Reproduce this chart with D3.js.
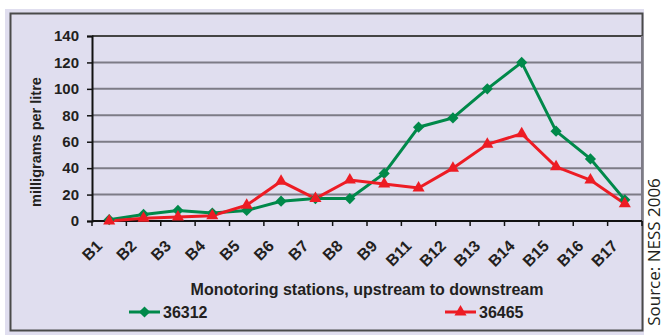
<!DOCTYPE html>
<html>
<head>
<meta charset="utf-8">
<script src="https://cdn.jsdelivr.net/npm/d3@7"></script>
<style>
  body { margin: 0; background: #fff; }
  svg { display: block; }
</style>
</head>
<body>
<svg id="chart" width="665" height="335"></svg>
<script>
// stations along the river (no B10 in the source)
var stations = ["B1","B2","B3","B4","B5","B6","B7","B8","B9","B11","B12","B13","B14","B15","B16","B17"]
var series36312 = [1, 5, 8, 6, 8, 15, 17, 17, 36, 71, 78, 100, 120, 68, 47, 16]
var series36465 = [0, 2, 3, 4, 12, 30, 17, 31, 28, 25, 40, 58, 66, 41, 31, 13]
var yTicks = [0, 20, 40, 60, 80, 100, 120, 140]

var green = "#00894a"
var red = "#ed1c24"
var font = "Liberation Sans, Arial, sans-serif"

var svg = d3.select("#chart")
var margin = {top: 36, right: 23, bottom: 114, left: 92}
var width = 665 - margin.left - margin.right
var height = 335 - margin.top - margin.bottom

// lavender panel with dark frame
svg.append("rect").attr("x", 5).attr("y", 9).attr("width", 639).attr("height", 326).attr("fill", "#e0deef")
svg.append("rect").attr("x", 10.5).attr("y", 13.5).attr("width", 632).attr("height", 317)
  .attr("fill", "none").attr("stroke", "#4a4a4a").attr("stroke-width", 2)

var g = svg.append("g").attr("transform", "translate(" + margin.left + "," + margin.top + ")")

var x = d3.scaleBand().domain(stations).range([0, width])
var y = d3.scaleLinear().domain([0, 140]).range([height, 0])

// gridlines
g.selectAll(".grid").data(yTicks.filter(d => d > 0)).enter().append("line")
  .attr("x1", 0).attr("x2", width)
  .attr("y1", d => y(d)).attr("y2", d => y(d))
  .attr("stroke", d => d == 140 ? "#444" : "#7d7b86").attr("stroke-width", 2)
g.append("line").attr("x1", width).attr("x2", width).attr("y1", 0).attr("y2", height)
  .attr("stroke", "#7d7b86").attr("stroke-width", 2)

// y axis
var yAxis = g.append("g").call(d3.axisLeft(y).tickValues(yTicks).tickSize(5).tickPadding(8))
yAxis.select(".domain").attr("stroke", "#111").attr("stroke-width", 2)
yAxis.selectAll(".tick line").attr("stroke", "#111").attr("stroke-width", 1.5)
yAxis.selectAll("text").attr("font-family", font)
  .attr("font-weight", "bold").attr("font-size", 15).attr("fill", "#231f20")

// x axis: ticks on the category boundaries
var xg = g.append("g").attr("transform", "translate(0," + height + ")")
xg.append("line").attr("x1", 0).attr("x2", width).attr("stroke", "#111").attr("stroke-width", 2)
xg.selectAll(".xt").data(stations.concat(["end"])).enter().append("line")
  .attr("x1", (d, i) => i * x.step()).attr("x2", (d, i) => i * x.step())
  .attr("y1", 0).attr("y2", 5).attr("stroke", "#111").attr("stroke-width", 1.5)
xg.selectAll(".xl").data(stations).enter().append("text")
  .attr("transform", d => "translate(" + (x(d) + x.bandwidth() / 2 - 6) + ",26) rotate(-45)")
  .attr("text-anchor", "end")
  .attr("font-family", font)
  .attr("font-weight", "bold").attr("font-size", 16).attr("fill", "#231f20")
  .text(d => d)

// lines
var line = d3.line().x((d, i) => x(stations[i]) + x.bandwidth() / 2).y(d => y(d))

g.append("path").datum(series36312).attr("d", line)
  .attr("fill", "none").attr("stroke", green).attr("stroke-width", 3)
g.append("path").datum(series36465).attr("d", line)
  .attr("fill", "none").attr("stroke", red).attr("stroke-width", 3)

var diamond = d3.symbol().type(d3.symbolDiamond2).size(80)
var triangle = d3.symbol().type(d3.symbolTriangle2).size(105)

g.selectAll(".m1").data(series36312).enter().append("path")
  .attr("d", diamond)
  .attr("transform", (d, i) => "translate(" + (x(stations[i]) + x.bandwidth() / 2) + "," + y(d) + ")")
  .attr("fill", green)
g.selectAll(".m2").data(series36465).enter().append("path")
  .attr("d", triangle)
  .attr("transform", (d, i) => "translate(" + (x(stations[i]) + x.bandwidth() / 2) + "," + y(d) + ")")
  .attr("fill", red)

// axis titles
svg.append("text")
  .attr("transform", "translate(41,142) rotate(-90)")
  .attr("text-anchor", "middle")
  .attr("font-family", font)
  .attr("font-weight", "bold").attr("font-size", 14.5).attr("fill", "#231f20")
  .text("milligrams per litre")

svg.append("text")
  .attr("x", 367).attr("y", 295)
  .attr("text-anchor", "middle")
  .attr("font-family", font)
  .attr("font-weight", "bold").attr("font-size", 16).attr("fill", "#231f20")
  .text("Monotoring stations, upstream to downstream")

// legend
var legend = [
  {name: "36312", color: green, sym: diamond, x: 129},
  {name: "36465", color: red, sym: triangle, x: 445}
]
legend.forEach(function(l) {
  var lg = svg.append("g").attr("transform", "translate(" + l.x + ",312)")
  lg.append("line").attr("x1", 0).attr("x2", 31).attr("stroke", l.color).attr("stroke-width", 3)
  lg.append("path").attr("d", l.sym).attr("transform", "translate(15.5,0)").attr("fill", l.color)
  lg.append("text").attr("x", 34).attr("y", 6)
    .attr("font-family", font)
    .attr("font-weight", "bold").attr("font-size", 16).attr("fill", "#231f20")
    .text(l.name)
})

// source note
svg.append("text")
  .attr("transform", "translate(660,252) rotate(-90)")
  .attr("text-anchor", "middle")
  .attr("font-family", "Open Sans, sans-serif")
  .attr("font-size", 17).attr("fill", "#231f20")
  .text("Source: NESS 2006")
</script>
</body>
</html>
